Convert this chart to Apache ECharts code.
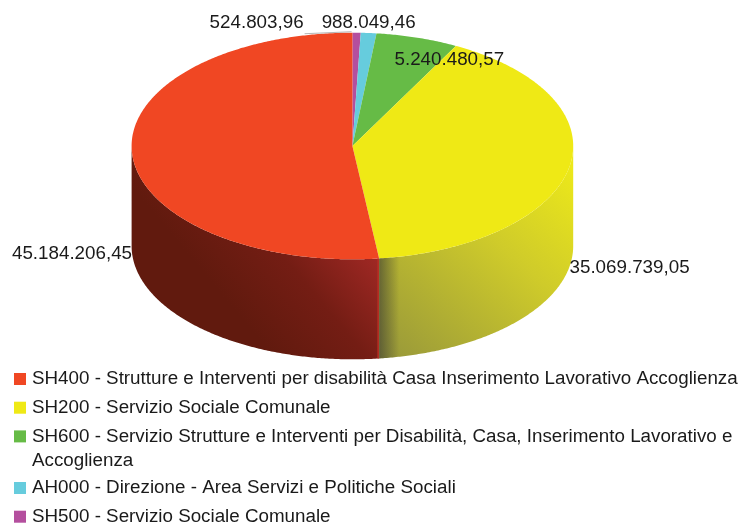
<!DOCTYPE html>
<html><head><meta charset="utf-8">
<style>html,body{margin:0;padding:0;background:#fff}#c{width:744px;height:526px}</style>
<script src="https://cdn.jsdelivr.net/npm/echarts@6/dist/echarts.min.js"></script>
</head><body><div id="c"></div>
<script>
const categories = [
  'SH500 - Servizio Sociale Comunale',
  'AH000 - Direzione - Area Servizi e Politiche Sociali',
  'SH600 - Servizio Strutture e Interventi per Disabilità, Casa, Inserimento Lavorativo e Accoglienza',
  'SH200 - Servizio Sociale Comunale ',
  'SH400 - Strutture e Interventi per disabilità Casa Inserimento Lavorativo Accoglienza'
];
const values = [524803.96, 988049.46, 5240480.57, 35069739.05, 45184206.45];
const topColors = ['#b44f9e', '#66ccdd', '#66bb46', '#efe915', '#f04723'];
const wrappedTail = 'Accoglienza';

// layout of the drawing
const CX = 352.4, CY = 146, RX = 220.8, RY = 113.3, DEPTH = 100;
const FONT = 'Liberation Sans';
const LABEL_SIZE = 18.8, LEGEND_SIZE = 18.8;
const labelOffsets = [[-100, -10], [0, -10], [32, 22], [0, 101], [-60, 101]];
const labelAlign = ['center', 'center', 'center', 'left', 'center'];
const wallFill = {
  3: {type:'linear', global:true, x:575, y:170, x2:400, y2:370,
      colorStops:[{offset:0,color:'#ece81a'},{offset:.4,color:'#cfcb2a'},{offset:1,color:'#98983a'}]},
  4: {type:'linear', global:true, x:378, y:258, x2:268, y2:350,
      colorStops:[{offset:0,color:'#a02824'},{offset:.5,color:'#741d14'},{offset:1,color:'#611a0e'}]}
};

const total = values.reduce((a, b) => a + b, 0);
const starts = [];
values.reduce((acc, v, i) => { starts[i] = acc; return acc + v / total * 360; }, 0);
const rim = (deg, dy = 0) => {
  const r = deg * Math.PI / 180;
  return [CX + RX * Math.sin(r), CY - RY * Math.cos(r) + dy];
};
const arc = (a, b) => {
  const pts = [], n = Math.max(2, Math.ceil((b - a) / 0.5));
  for (let k = 0; k <= n; k++) pts.push(a + (b - a) * k / n);
  return pts;
};
const fmt = v => {
  const [i, d] = v.toFixed(2).split('.');
  return i.replace(/\B(?=(\d{3})+$)/g, '.') + ',' + d;
};

function renderSlice(i, params, api) {
  const a = starts[i], b = a + api.value(0) / total * 360;
  const children = [];
  // outer wall: only the part of the rim facing the viewer
  const wa = Math.max(a, 90), wb = Math.min(b, 270);
  if (wb > wa && wallFill[i]) {
    const angles = arc(wa, wb);
    const pts = angles.map(d => rim(d)).concat(angles.slice().reverse().map(d => rim(d, DEPTH)));
    children.push({type:'polygon', z2:1, shape:{points:pts}, style:{fill:wallFill[i]}});
  }
  // top face
  const top = [[CX, CY]].concat(arc(a, b).map(d => rim(d)));
  children.push({type:'polygon', z2:3, shape:{points:top}, style:{fill:topColors[i]}});
  // value label
  const mid = rim((a + b) / 2);
  const off = labelOffsets[i];
  children.push({type:'text', z2:100, x:mid[0] + off[0], y:mid[1] + off[1],
    style:{text:fmt(api.value(0)), font:LABEL_SIZE + 'px "' + FONT + '"', fill:'#1a1a1a',
           align:labelAlign[i], verticalAlign:'middle'}});
  if (i === 0) {
    children.push({type:'line', z2:50, shape:{x1:mid[0] - 52, y1:mid[1] + 1, x2:mid[0] - 5, y2:mid[1] - 1},
      style:{stroke:'#b5b5b5', lineWidth:1}});
  }
  return {type:'group', children};
}

const series = categories.map((name, i) => ({
  type:'custom', name, coordinateSystem:'none', silent:true,
  itemStyle:{color:topColors[i]},
  data:[[values[i]]],
  renderItem:(p, api) => renderSlice(i, p, api)
}));

// dark shading on the yellow wall next to the red slice
const yStart = starts[3] + values[3] / total * 360;
const shadeAngles = arc(yStart - 6.5, yStart);
series.push({
  type:'custom', coordinateSystem:'none', silent:true, data:[[0]], z:3,
  renderItem:() => {
    const x0 = rim(yStart)[0];
    return {type:'group', children:[
      {type:'polygon', shape:{points:shadeAngles.map(d => rim(d)).concat(shadeAngles.slice().reverse().map(d => rim(d, DEPTH)))},
       style:{fill:{type:'linear', global:true, x:x0, y:0, x2:x0 + 20, y2:0,
         colorStops:[{offset:0,color:'rgba(60,60,50,.62)'},{offset:1,color:'rgba(60,60,50,0)'}]}}},
      {type:'line', shape:{x1:x0 - 1, y1:rim(yStart)[1], x2:x0 - 1, y2:rim(yStart)[1] + DEPTH},
       style:{stroke:'#b93024', lineWidth:1.5}}
    ]};
  }
});

const legendBase = {
  orient:'vertical', left:14, padding:0, itemWidth:12, itemHeight:12, itemGap:5.7, icon:'rect',
  selectedMode:false, align:'left', height:160, width:730,
  textStyle:{fontFamily:FONT, fontSize:LEGEND_SIZE, color:'#1a1a1a', lineHeight:23, padding:[0,0,0,1]},
  formatter:n => n === categories[2] ? n.slice(0, -wrappedTail.length - 1) : n.trim()
};
const chart = echarts.init(document.getElementById('c'), null, {renderer:'canvas'});
chart.setOption({
  animation:false, backgroundColor:'#fff',
  legend:[
    Object.assign({}, legendBase, {top:367.5, data:[categories[4], categories[3], categories[2]]}),
    Object.assign({}, legendBase, {top:476.5, data:[categories[1], categories[0]]})
  ],
  graphic:[{type:'text', left:32, top:451, style:{text:wrappedTail, font:LEGEND_SIZE + 'px "' + FONT + '"', fill:'#1a1a1a'}}],
  series
});
</script></body></html>
